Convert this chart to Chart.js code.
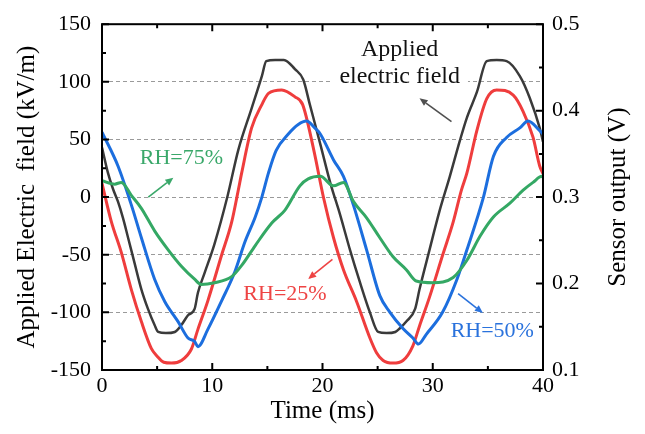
<!DOCTYPE html>
<html>
<head>
<meta charset="utf-8">
<script src="https://cdn.jsdelivr.net/npm/chart.js@4"></script>
<style>
  html, body { margin: 0; padding: 0; background: #fff; }
  #wrap { width: 645px; height: 434px; }
</style>
</head>
<body>
<div id="wrap"><canvas id="chart"></canvas></div>
<script>
// Applied field (left axis, kV/m)
const fieldTime = [0, 0.54, 1.0, 1.45, 1.9, 2.36, 2.96, 3.57, 4.17, 4.77, 5.1, 5.8, 6.6, 7.2, 7.8, 8.4, 8.7, 9.3, 10.2, 11.4, 12.36, 13.57, 14.5, 14.9, 15.7, 16.5, 17.5, 18.25, 18.86, 19.8, 20.7, 21.6, 22.5, 23.4, 24.3, 25.05, 25.8, 26.6, 27.0, 27.6, 28.4, 28.8, 29.7, 30.6, 31.55, 32.46, 33.1, 34.0, 34.9, 35.8, 36.7, 37.9, 38.8, 39.7, 40];
const fieldValues = [43, 21, 7, -4, -18, -35, -57.5, -80, -97, -111, -117, -118, -117, -111, -102.5, -97, -83, -66, -40.7, 1.4, 40.8, 77, 105, 118, 119, 119, 111, 102, 80, 46, 12.6, -15.4, -46, -74, -100, -117, -118, -117, -114, -108, -97, -80, -46, -12.6, 18, 49, 69, 91, 118, 119, 118, 105, 86, 60, 48];

// Sensor output (right axis, V)
const rh25Time = [0, 0.84, 1.75, 2.66, 3.57, 4.47, 5.0, 5.6, 6.3, 7.2, 8.1, 8.7, 9.6, 10.85, 11.76, 12.36, 12.67, 13.57, 14.5, 15.1, 16.3, 17.5, 18.2, 19.2, 20.1, 21.0, 21.9, 23.1, 24.3, 24.9, 25.5, 26.4, 27.3, 28.2, 28.8, 29.7, 30.9, 31.85, 32.6, 33.1, 34.0, 34.9, 35.8, 37.3, 38.2, 39.1, 39.7, 40];
const rh25Values = [0.316, 0.272, 0.236, 0.193, 0.156, 0.125, 0.116, 0.109, 0.108, 0.111, 0.124, 0.147, 0.180, 0.233, 0.271, 0.308, 0.328, 0.380, 0.407, 0.420, 0.424, 0.416, 0.407, 0.355, 0.299, 0.253, 0.216, 0.179, 0.137, 0.120, 0.111, 0.108, 0.111, 0.128, 0.151, 0.184, 0.233, 0.271, 0.308, 0.328, 0.377, 0.414, 0.424, 0.418, 0.399, 0.369, 0.336, 0.327];

const rh50Time = [0, 1.45, 2.66, 3.57, 4.77, 5.7, 6.9, 7.8, 8.4, 8.7, 9.6, 10.85, 12.06, 12.96, 13.9, 14.5, 15.1, 15.8, 16.9, 17.8, 18.55, 19.3, 19.8, 21.0, 21.9, 22.8, 24.0, 25.2, 26.1, 27.3, 28.2, 28.7, 29.4, 30.9, 32.2, 33.1, 34.6, 35.5, 36.7, 37.9, 38.65, 39.7, 40];
const rh50Values = [0.375, 0.336, 0.291, 0.253, 0.205, 0.179, 0.156, 0.137, 0.133, 0.127, 0.147, 0.180, 0.214, 0.248, 0.277, 0.300, 0.328, 0.354, 0.373, 0.384, 0.388, 0.380, 0.373, 0.343, 0.324, 0.291, 0.239, 0.186, 0.167, 0.148, 0.137, 0.130, 0.141, 0.167, 0.205, 0.239, 0.300, 0.347, 0.369, 0.380, 0.388, 0.377, 0.373];

const rh75Time = [0, 1.15, 1.75, 2.66, 3.57, 4.77, 6.0, 7.2, 8.4, 9.0, 10.2, 11.76, 12.67, 13.9, 15.4, 16.6, 17.95, 18.7, 19.8, 21.0, 21.9, 22.8, 24.0, 25.2, 26.4, 27.6, 28.5, 30.0, 31.85, 33.1, 34.3, 35.5, 37.0, 38.2, 39.1, 39.9, 40];
const rh75Values = [0.319, 0.315, 0.317, 0.302, 0.287, 0.261, 0.239, 0.220, 0.205, 0.199, 0.201, 0.208, 0.221, 0.244, 0.270, 0.285, 0.313, 0.321, 0.324, 0.313, 0.317, 0.295, 0.276, 0.253, 0.231, 0.216, 0.203, 0.201, 0.207, 0.227, 0.255, 0.277, 0.293, 0.308, 0.317, 0.324, 0.323];

const xTicks = [0, 10, 20, 30, 40];
const fieldTicks = [-150, -100, -50, 0, 50, 100, 150];
const sensorTicks = [0.1, 0.2, 0.3, 0.4, 0.5];

const FONT = "'Liberation Serif', 'Times New Roman', serif";

function pts(t, v) { return t.map((x, i) => ({ x: x, y: v[i] })); }

// labels and arrows, placed in data units (x: ms, y: kV/m)
const notes = [
  { text: ['Applied', 'electric field'], x: 27.0, y: [127.5, 104.5], color: '#111', size: 24, bg: true },
  { text: ['RH=75%'], x: 7.2, y: [33.4], color: '#3aa86a', size: 22 },
  { text: ['RH=25%'], x: 16.6, y: [-84.5], color: '#ee4444', size: 22 },
  { text: ['RH=50%'], x: 35.4, y: [-116.5], color: '#2a72dc', size: 22 }
];
const arrows = [
  { from: [31.7, 65.5], to: [28.8, 85.7], color: '#505050' },
  { from: [4.2, 0], to: [6.47, 16.8], color: '#3aa86a' },
  { from: [20.9, -54], to: [18.7, -71], color: '#ee4444' },
  { from: [32.3, -83.7], to: [34.55, -100.5], color: '#2a72dc' }
];

const framePlugin = {
  id: 'frame',
  afterDatasetsDraw(chart) {
    const { ctx, chartArea: a, scales } = chart;
    const sx = scales.x, sy = scales.y, sy2 = scales.y2;
    ctx.save();

    // annotations
    ctx.textAlign = 'center';
    ctx.textBaseline = 'middle';
    notes.forEach(n => {
      ctx.font = n.size + 'px ' + FONT;
      const px = sx.getPixelForValue(n.x);
      if (n.bg) {
        let w = 0;
        n.text.forEach(s => { w = Math.max(w, ctx.measureText(s).width); });
        const y0 = sy.getPixelForValue(n.y[0]) - 12;
        const y1 = sy.getPixelForValue(n.y[n.y.length - 1]) + 12;
        ctx.fillStyle = '#fff';
        ctx.fillRect(px - w / 2 - 8, y0, w + 16, y1 - y0);
      }
      ctx.fillStyle = n.color;
      n.text.forEach((s, i) => ctx.fillText(s, px, sy.getPixelForValue(n.y[i])));
    });

    arrows.forEach(ar => {
      const x0 = sx.getPixelForValue(ar.from[0]), y0 = sy.getPixelForValue(ar.from[1]);
      const x1 = sx.getPixelForValue(ar.to[0]), y1 = sy.getPixelForValue(ar.to[1]);
      const ang = Math.atan2(y1 - y0, x1 - x0);
      const hl = 8, hw = 3.5;
      ctx.strokeStyle = ar.color;
      ctx.fillStyle = ar.color;
      ctx.lineWidth = 1.6;
      ctx.beginPath();
      ctx.moveTo(x0, y0);
      ctx.lineTo(x1 - hl * Math.cos(ang), y1 - hl * Math.sin(ang));
      ctx.stroke();
      ctx.beginPath();
      ctx.moveTo(x1, y1);
      ctx.lineTo(x1 - hl * Math.cos(ang) + hw * Math.sin(ang), y1 - hl * Math.sin(ang) - hw * Math.cos(ang));
      ctx.lineTo(x1 - hl * Math.cos(ang) - hw * Math.sin(ang), y1 - hl * Math.sin(ang) + hw * Math.cos(ang));
      ctx.closePath();
      ctx.fill();
    });

    // frame
    ctx.strokeStyle = '#000';
    ctx.lineWidth = 2;
    ctx.strokeRect(a.left, a.top, a.right - a.left, a.bottom - a.top);

    // inward ticks
    ctx.beginPath();
    for (let t = 0; t <= 40; t += 5) {
      const px = sx.getPixelForValue(t);
      const len = t % 10 === 0 ? 7 : 4;
      ctx.moveTo(px, a.bottom); ctx.lineTo(px, a.bottom - len);
      ctx.moveTo(px, a.top); ctx.lineTo(px, a.top + len);
    }
    for (let v = -150; v <= 150; v += 25) {
      const py = sy.getPixelForValue(v);
      const len = v % 50 === 0 ? 7 : 4;
      ctx.moveTo(a.left, py); ctx.lineTo(a.left + len, py);
    }
    for (let k = 0; k <= 8; k++) {
      const py = sy2.getPixelForValue(0.1 + k * 0.05);
      const len = k % 2 === 0 ? 7 : 4;
      ctx.moveTo(a.right, py); ctx.lineTo(a.right - len, py);
    }
    ctx.stroke();

    // right axis title, read bottom to top
    ctx.save();
    ctx.translate(618, (a.top + a.bottom) / 2);
    ctx.rotate(-Math.PI / 2);
    ctx.font = '25px ' + FONT;
    ctx.fillStyle = '#000';
    ctx.textAlign = 'center';
    ctx.textBaseline = 'middle';
    ctx.fillText('Sensor output (V)', 0, 0);
    ctx.restore();

    ctx.restore();
  }
};

new Chart(document.getElementById('chart'), {
  type: 'line',
  data: {
    datasets: [
      { label: 'RH=75%', data: pts(rh75Time, rh75Values), yAxisID: 'y2', borderColor: '#34a864', borderWidth: 3, order: 0 },
      { label: 'RH=50%', data: pts(rh50Time, rh50Values), yAxisID: 'y2', borderColor: '#1c6ede', borderWidth: 3, order: 1 },
      { label: 'RH=25%', data: pts(rh25Time, rh25Values), yAxisID: 'y2', borderColor: '#ef3d3d', borderWidth: 3, order: 2 },
      { label: 'Applied electric field', data: pts(fieldTime, fieldValues), yAxisID: 'y', borderColor: '#3a3a3a', borderWidth: 2.5, order: 3 }
    ]
  },
  options: {
    responsive: true,
    maintainAspectRatio: false,
    animation: false,
    elements: { point: { radius: 0 }, line: { cubicInterpolationMode: 'monotone', fill: false } },
    layout: { padding: { top: 14, left: 0, right: 0, bottom: 0 } },
    plugins: { legend: { display: false }, tooltip: { enabled: false } },
    scales: {
      x: {
        type: 'linear', position: 'bottom', min: 0, max: 40,
        afterBuildTicks: s => { s.ticks = xTicks.map(v => ({ value: v })); },
        afterFit: s => { s.height = 64; },
        ticks: { font: { family: FONT, size: 22 }, color: '#000', padding: 3, maxRotation: 0 },
        grid: { display: false, drawTicks: false },
        border: { display: false },
        title: { display: true, text: 'Time (ms)', font: { family: FONT, size: 25 }, color: '#000', padding: { top: 0, bottom: 8 } }
      },
      y: {
        type: 'linear', position: 'left', min: -150, max: 150,
        afterBuildTicks: s => { s.ticks = fieldTicks.map(v => ({ value: v })); },
        afterFit: s => { s.width = 102; },
        ticks: { font: { family: FONT, size: 22 }, color: '#000', padding: 11 },
        grid: {
          drawTicks: false, lineWidth: 1,
          color: c => (Math.abs(c.tick.value) === 150 ? 'rgba(0,0,0,0)' : '#9a9a9a')
        },
        border: { display: false, dash: [4, 3] },
        title: { display: true, text: 'Applied Electric  field (kV/m)', font: { family: FONT, size: 25 }, color: '#000', padding: { top: 12, bottom: 0 } }
      },
      y2: {
        type: 'linear', position: 'right', min: 0.1, max: 0.5,
        afterBuildTicks: s => { s.ticks = sensorTicks.map(v => ({ value: v })); },
        afterFit: s => { s.width = 102; },
        ticks: { font: { family: FONT, size: 22 }, color: '#000', padding: 9, callback: v => v.toFixed(1) },
        grid: { drawOnChartArea: false, drawTicks: false },
        border: { display: false },
        title: { display: false }
      }
    }
  },
  plugins: [framePlugin]
});
</script>
</body>
</html>
